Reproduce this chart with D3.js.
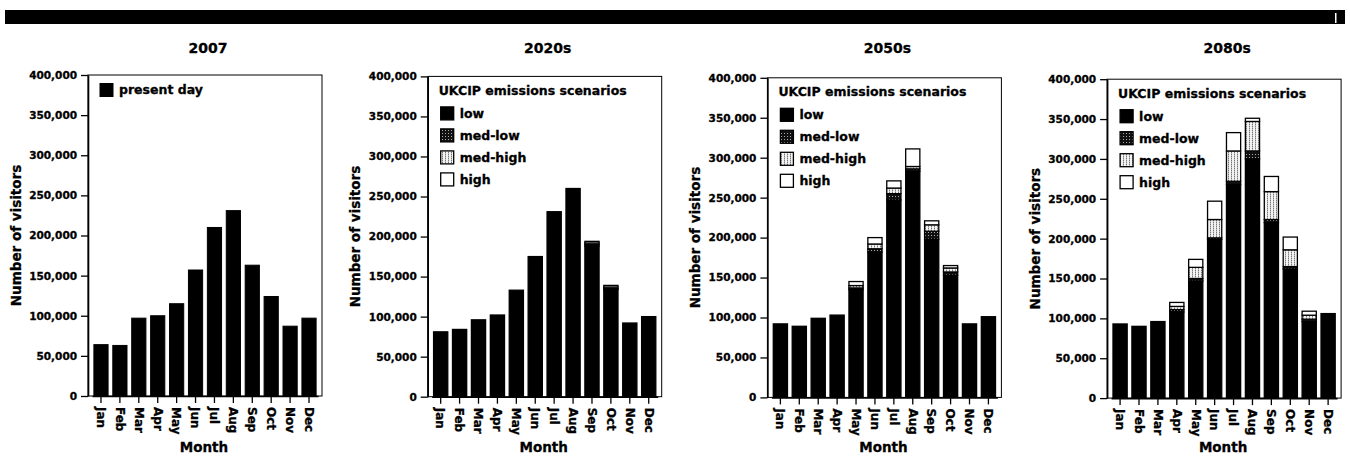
<!DOCTYPE html>
<html>
<head>
<meta charset="utf-8">
<script src="https://cdn.jsdelivr.net/npm/d3@7"></script>
<style>
  html, body { margin: 0; padding: 0; background: #fff; }
  svg { display: block; }
  text { font-family: "DejaVu Sans", sans-serif; font-weight: bold; fill: #000; stroke: #000; stroke-width: 0.3px; }
</style>
</head>
<body>
<svg id="chart" width="1350" height="457"></svg>
<script>
// Monthly visitor numbers, present day and projected under UKCIP emissions scenarios (thousands)
const months = ["Jan", "Feb", "Mar", "Apr", "May", "Jun", "Jul", "Aug", "Sep", "Oct", "Nov", "Dec"];
const yTicks = [0, 50000, 100000, 150000, 200000, 250000, 300000, 350000, 400000];
const panelTitles = ["2007", "2020s", "2050s", "2080s"];
const scenarioNames = ["low", "med-low", "med-high", "high"];

const present2007 = [64, 63, 97, 100, 115, 157, 210, 231, 163, 124, 87, 97];

const low2020s     = [81, 84, 96, 102, 133, 175, 231, 260, 188, 134, 92, 100];
const medLow2020s  = [81, 84, 96, 102, 133, 175, 231, 260, 190, 135, 92, 100];
const medHigh2020s = [81, 84, 96, 102, 133, 175, 231, 260, 192, 137, 92, 100];
const high2020s    = [81, 84, 96, 102, 133, 175, 231, 260, 194, 139, 92, 100];

const low2050s     = [92, 89, 99, 103, 135, 182, 247, 283, 198, 153, 92, 101];
const medLow2050s  = [92, 89, 99, 103, 137, 186, 255, 286, 208, 157, 92, 101];
const medHigh2050s = [92, 89, 99, 103, 140, 192, 262, 289, 216, 162, 92, 101];
const high2050s    = [92, 89, 99, 103, 145, 200, 271, 311, 221, 165, 92, 101];

const low2080s     = [93, 90, 96, 108, 147, 199, 268, 300, 220, 162, 96, 106];
const medLow2080s  = [93, 90, 96, 111, 150, 201, 272, 310, 224, 165, 99, 106];
const medHigh2080s = [93, 90, 96, 115, 164, 224, 310, 347, 259, 186, 104, 106];
const high2080s    = [93, 90, 96, 120, 174, 247, 333, 351, 278, 202, 109, 106];

const scenarioPanels = [
  [low2020s, medLow2020s, medHigh2020s, high2020s],
  [low2050s, medLow2050s, medHigh2050s, high2050s],
  [low2080s, medLow2080s, medHigh2080s, high2080s]
];

const svg = d3.select("#chart");

// fill patterns for the intermediate scenarios
const defs = svg.append("defs");
const pMedLow = defs.append("pattern").attr("id", "pMedLow")
  .attr("width", 3).attr("height", 3).attr("patternUnits", "userSpaceOnUse");
pMedLow.append("rect").attr("width", 3).attr("height", 3).attr("fill", "#111");
pMedLow.append("rect").attr("x", 1).attr("y", 1).attr("width", 1).attr("height", 1).attr("fill", "#aaa");
const pMedHigh = defs.append("pattern").attr("id", "pMedHigh")
  .attr("width", 3).attr("height", 2).attr("patternUnits", "userSpaceOnUse");
pMedHigh.append("rect").attr("width", 3).attr("height", 2).attr("fill", "#f2f2f2");
pMedHigh.append("rect").attr("x", 1).attr("y", 0).attr("width", 1).attr("height", 1).attr("fill", "#777");
pMedHigh.append("rect").attr("x", 1).attr("y", 1).attr("width", 1).attr("height", 1).attr("fill", "#bbb");
const scenarioFills = ["#000", "url(#pMedLow)", "url(#pMedHigh)", "#fff"];

// banner across the top
svg.append("rect").attr("x", 5).attr("y", 10).attr("width", 1340).attr("height", 14).attr("fill", "#000");
svg.append("rect").attr("x", 1335).attr("y", 13).attr("width", 1.5).attr("height", 10).attr("fill", "#fff");

const fmt = d3.format(",");

function drawPanel(i) {
  const left = 88 + i * 339.7;
  const right = left + 234;
  const top = 75 + i * 1.4;
  const bottom = 396 + i * 0.7;

  const x = d3.scaleBand().domain(months).range([left + 4, right - 4])
    .paddingInner(0.25).paddingOuter(0.1);
  const y = d3.scaleLinear().domain([0, 400000]).range([bottom, top]);

  const g = svg.append("g");

  // title
  g.append("text").attr("x", (left + right) / 2 + 3).attr("y", 48).attr("dy", "0.35em")
    .attr("text-anchor", "middle").style("font-size", "14px").text(panelTitles[i]);

  // bars
  const bars = g.append("g");
  if (i === 0) {
    bars.selectAll("rect").data(present2007).join("rect")
      .attr("x", (d, j) => x(months[j]))
      .attr("width", x.bandwidth())
      .attr("y", d => y(d * 1000))
      .attr("height", d => y(0) - y(d * 1000))
      .attr("fill", "#000").attr("stroke", "#000").attr("stroke-width", 1);
  } else {
    const series = scenarioPanels[i - 1];
    const segs = [];
    months.forEach((m, j) => {
      let base = 0;
      series.forEach((s, k) => {
        const v = s[j];
        if (v > base) segs.push({ m, y0: base, y1: v, k });
        base = Math.max(base, v);
      });
    });
    bars.selectAll("rect").data(segs).join("rect")
      .attr("x", d => x(d.m))
      .attr("width", x.bandwidth())
      .attr("y", d => y(d.y1 * 1000))
      .attr("height", d => y(d.y0 * 1000) - y(d.y1 * 1000))
      .attr("fill", d => scenarioFills[d.k])
      .attr("stroke", "#000").attr("stroke-width", 1.3);
  }

  // plot frame
  g.append("rect").attr("x", left).attr("y", top).attr("width", right - left).attr("height", bottom - top)
    .attr("fill", "none").attr("stroke", "#000").attr("stroke-width", 1);

  // y axis
  const ya = g.append("g").attr("transform", `translate(${left},0)`)
    .call(d3.axisLeft(y).tickValues(yTicks).tickSize(7).tickSizeOuter(0).tickPadding(4).tickFormat(fmt));
  ya.select(".domain").attr("stroke-width", 1.6);
  ya.selectAll(".tick line").attr("stroke-width", 1.3);
  ya.selectAll("text").style("font-size", "10.5px").attr("font-family", null);

  // x axis
  const xa = g.append("g").attr("transform", `translate(0,${bottom})`)
    .call(d3.axisBottom(x).tickSize(7).tickSizeOuter(0).tickPadding(3));
  xa.select(".domain").attr("stroke-width", 1.6);
  xa.selectAll(".tick line").attr("stroke-width", 1.3);
  xa.selectAll("text")
    .attr("y", 0).attr("x", 11).attr("dy", "0.35em")
    .attr("transform", "rotate(90)")
    .style("text-anchor", "start").style("font-size", "12px").attr("font-family", null);

  // axis titles
  g.append("text").attr("transform", `translate(${left - 72},${(top + bottom) / 2}) rotate(-90)`)
    .attr("dy", "0.35em").attr("text-anchor", "middle").style("font-size", "13.5px").text("Number of visitors");
  g.append("text").attr("x", (left + right) / 2 - 1).attr("y", 447).attr("dy", "0.35em")
    .attr("text-anchor", "middle").style("font-size", "13.5px").text("Month");

  // legend
  const lg = g.append("g");
  if (i === 0) {
    lg.append("rect").attr("x", left + 12).attr("y", top + 15 - 6.5).attr("width", 13).attr("height", 13)
      .attr("fill", "#000").attr("stroke", "#000");
    lg.append("text").attr("x", left + 31).attr("y", top + 15).attr("dy", "0.35em")
      .style("font-size", "12.5px").text("present day");
  } else {
    lg.append("text").attr("x", left + 11).attr("y", top + 14).attr("dy", "0.35em")
      .style("font-size", "12.5px").text("UKCIP emissions scenarios");
    scenarioNames.forEach((name, k) => {
      const cy = top + 37 + k * 22;
      lg.append("rect").attr("x", left + 13).attr("y", cy - 6.5).attr("width", 13).attr("height", 13)
        .attr("fill", scenarioFills[k]).attr("stroke", "#000").attr("stroke-width", 1.3);
      lg.append("text").attr("x", left + 32).attr("y", cy).attr("dy", "0.35em")
        .style("font-size", "12.5px").text(name);
    });
  }
}

[0, 1, 2, 3].forEach(drawPanel);
</script>
</body>
</html>
